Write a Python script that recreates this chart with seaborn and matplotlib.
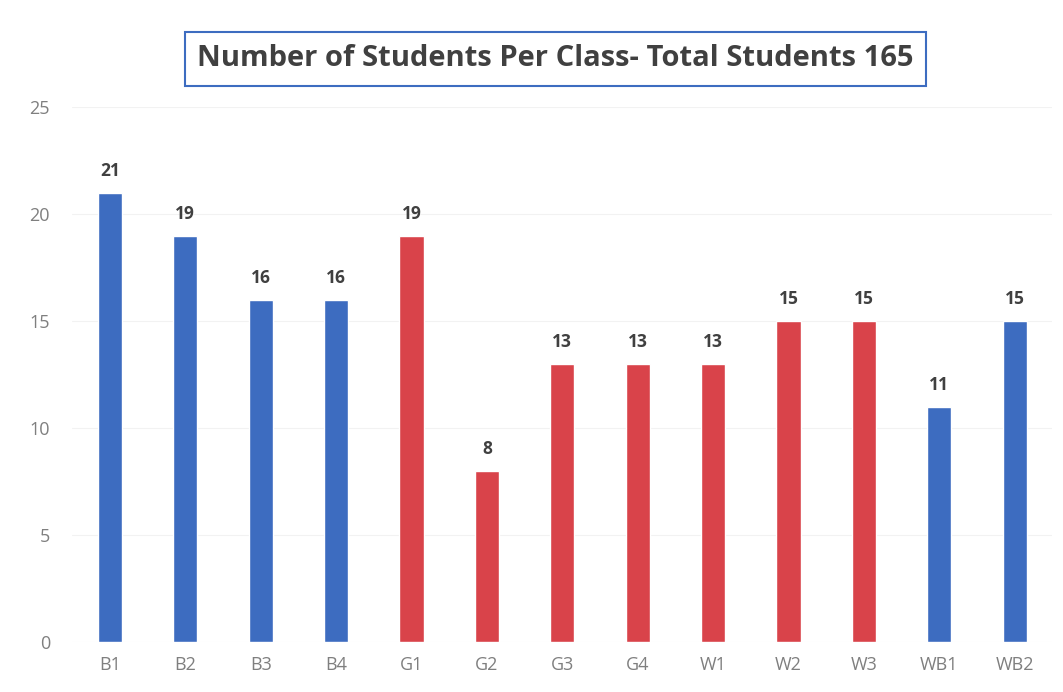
import pandas as pd
import matplotlib
matplotlib.use("Agg")
import matplotlib.pyplot as plt
import seaborn as sns

# data
classes = ["B1", "B2", "B3", "B4", "G1", "G2", "G3", "G4", "W1", "W2", "W3", "WB1", "WB2"]
students = [21, 19, 16, 16, 19, 8, 13, 13, 13, 15, 15, 11, 15]
groups = ["blue", "blue", "blue", "blue", "red", "red", "red", "red", "red", "red", "red", "blue", "blue"]

BLUE = "#3d6cc0"
RED = "#d9434a"

df = pd.DataFrame({"cls": classes, "n": students, "grp": groups})

sns.set_style("white")
plt.rcParams['font.family'] = ['Open Sans', 'DejaVu Sans']

fig = plt.figure(figsize=(10.63, 6.92), dpi=100)
ax = fig.add_axes([0.068, 0.072, 0.922, 0.773])

sns.barplot(data=df, x="cls", y="n", hue="grp", palette={"blue": BLUE, "red": RED},
            dodge=False, width=0.32, legend=False, ax=ax, saturation=1)

# value labels
for i, v in enumerate(students):
    ax.text(i, v + 0.6, str(v), ha="center", va="bottom", fontsize=12.5,
            fontweight="bold", color="#404040")

ax.set_ylim(0, 25)
ax.set_xlim(-0.5, len(classes) - 0.5)
ax.set_yticks([0, 5, 10, 15, 20, 25])
ax.yaxis.grid(True, color="#f2f2f2", linewidth=0.8)
ax.set_axisbelow(True)
for s in ax.spines.values():
    s.set_visible(False)
ax.tick_params(axis="both", length=0, labelsize=13, labelcolor="#7f7f7f")
ax.tick_params(axis="y", pad=16)
ax.tick_params(axis="x", pad=10)
ax.set_xlabel("")
ax.set_ylabel("")

fig.text(0.5225, 0.915, "Number of Students Per Class- Total Students 165",
         ha="center", va="center", fontsize=21, fontweight="bold", color="#404040",
         bbox=dict(boxstyle="square,pad=0.42", facecolor="white", edgecolor="#3d6cc0", linewidth=1.5))

fig.savefig("out.png", dpi=100)
